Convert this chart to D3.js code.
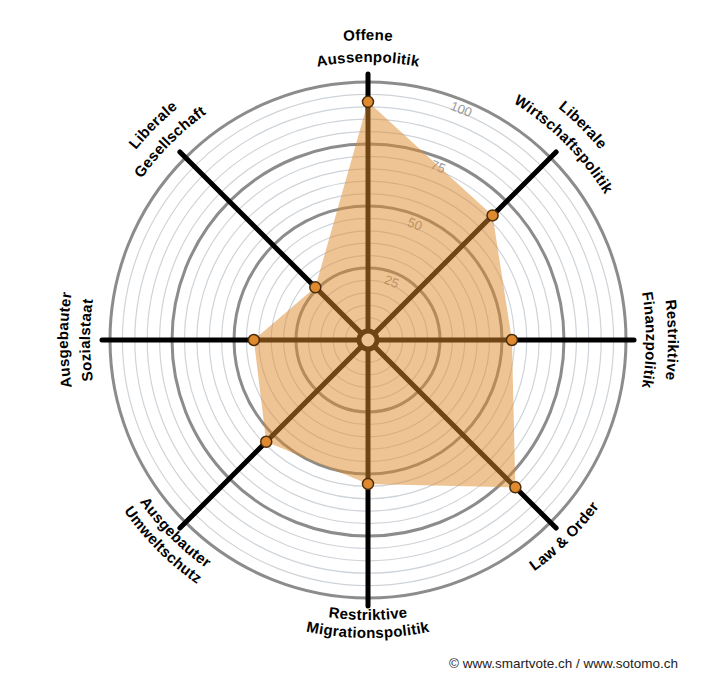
<!DOCTYPE html>
<html>
<head>
<meta charset="utf-8">
<script src="https://cdn.jsdelivr.net/npm/d3@7"></script>
<style>
  body { margin: 0; background: #fff; }
  svg { display: block; }
</style>
</head>
<body>
<div id="chart"></div>
<script>
// smartvote spider, values (0..100)
const axisLabels = [
    ["Offene", "Aussenpolitik"],
    ["Liberale", "Wirtschaftspolitik"],
    ["Restriktive", "Finanzpolitik"],
    ["Law & Order"],
    ["Restriktive", "Migrationspolitik"],
    ["Ausgebauter", "Umweltschutz"],
    ["Ausgebauter", "Sozialstaat"],
    ["Liberale", "Gesellschaft"]
];
const values = [92, 67, 54, 80, 54, 54, 42, 26];
const majorTicks = [25, 50, 75, 100];
const minorTicks = d3.range(5, 100, 5).filter(v => v % 25 !== 0);

const width = 712, height = 677;
const cx = 368, cy = 340;

const svg = d3.select('#chart').append('svg')
    .attr('width', width)
    .attr('height', height);

const r = d3.scaleLinear().domain([0, 100]).range([10, 258]);
const angle = d3.scaleLinear().domain([0, axisLabels.length]).range([0, 2 * Math.PI]);

// angle measured clockwise from the top
const pt = (a, rad) => [cx + rad * Math.sin(a), cy - rad * Math.cos(a)];

const g = svg.append('g');

g.selectAll('.minor')
    .data(minorTicks)
    .enter().append('circle')
    .attr('class', 'minor')
    .attr('cx', cx).attr('cy', cy)
    .attr('r', d => r(d))
    .attr('fill', 'none')
    .attr('stroke', '#cfd4d9')
    .attr('stroke-width', 1.2);

g.selectAll('.major')
    .data(majorTicks)
    .enter().append('circle')
    .attr('class', 'major')
    .attr('cx', cx).attr('cy', cy)
    .attr('r', d => r(d))
    .attr('fill', 'none')
    .attr('stroke', '#8c8c8c')
    .attr('stroke-width', 3);

const tickAngle = 22 * Math.PI / 180;
g.selectAll('.tick-label')
    .data(majorTicks)
    .enter().append('text')
    .attr('class', 'tick-label')
    .attr('transform', d => {
        const p = pt(tickAngle, r(d) - 10);
        return `translate(${p[0]},${p[1]}) rotate(22)`;
    })
    .attr('text-anchor', 'middle')
    .attr('dominant-baseline', 'middle')
    .attr('font-family', 'Liberation Sans, Arial, sans-serif')
    .attr('font-size', 13)
    .attr('fill', '#9a9a9a')
    .text(d => d);

// spokes
g.selectAll('.spoke')
    .data(axisLabels)
    .enter().append('line')
    .attr('class', 'spoke')
    .attr('x1', (d, i) => pt(angle(i), 9)[0])
    .attr('y1', (d, i) => pt(angle(i), 9)[1])
    .attr('x2', (d, i) => pt(angle(i), 266)[0])
    .attr('y2', (d, i) => pt(angle(i), 266)[1])
    .attr('stroke', '#000')
    .attr('stroke-width', 5)
    .attr('stroke-linecap', 'round');

g.append('circle')
    .attr('cx', cx).attr('cy', cy)
    .attr('r', 9)
    .attr('fill', '#fff')
    .attr('stroke', '#000')
    .attr('stroke-width', 5);

// polygon
const line = d3.line().curve(d3.curveLinearClosed);
g.append('path')
    .attr('d', line(values.map((v, i) => pt(angle(i), r(v)))))
    .attr('fill', '#dd8a2c')
    .attr('fill-opacity', 0.5)
    .attr('stroke', 'none');

g.selectAll('.dot')
    .data(values)
    .enter().append('circle')
    .attr('class', 'dot')
    .attr('cx', (d, i) => pt(angle(i), r(d))[0])
    .attr('cy', (d, i) => pt(angle(i), r(d))[1])
    .attr('r', 5.5)
    .attr('fill', '#e08a30')
    .attr('stroke', '#4a2c0c')
    .attr('stroke-width', 1.5);

// curved axis labels
const defs = svg.append('defs');
const deg = Math.PI / 180;

function arcPath(a, rad, clockwise) {
    const s = pt(a - 90 * deg, rad), e = pt(a + 90 * deg, rad);
    if (clockwise) return `M${s[0]},${s[1]} A${rad},${rad} 0 0 1 ${e[0]},${e[1]}`;
    return `M${e[0]},${e[1]} A${rad},${rad} 0 0 0 ${s[0]},${s[1]}`;
}

axisLabels.forEach((lines, i) => {
    const a = angle(i);
    const lower = i >= 3 && i <= 5;
    let radii;
    if (lower) radii = lines.length === 1 ? [285] : [280, 298];
    else radii = lines.length === 1 ? [288] : [300, 278];
    lines.forEach((t, j) => {
        const id = `lab-${i}-${j}`;
        defs.append('path').attr('id', id).attr('d', arcPath(a, radii[j], !lower));
        svg.append('text')
            .attr('font-family', 'Liberation Sans, Arial, sans-serif')
            .attr('font-weight', 'bold')
            .attr('font-size', 15)
            .attr('letter-spacing', 0.3)
            .attr('fill', '#000')
            .append('textPath')
            .attr('href', `#${id}`)
            .attr('startOffset', '50%')
            .attr('text-anchor', 'middle')
            .text(t);
    });
});

svg.append('text')
    .attr('x', 678)
    .attr('y', 668)
    .attr('text-anchor', 'end')
    .attr('font-family', 'Liberation Sans, Arial, sans-serif')
    .attr('font-size', 13.5)
    .attr('fill', '#222')
    .text('© www.smartvote.ch / www.sotomo.ch');
</script>
</body>
</html>
